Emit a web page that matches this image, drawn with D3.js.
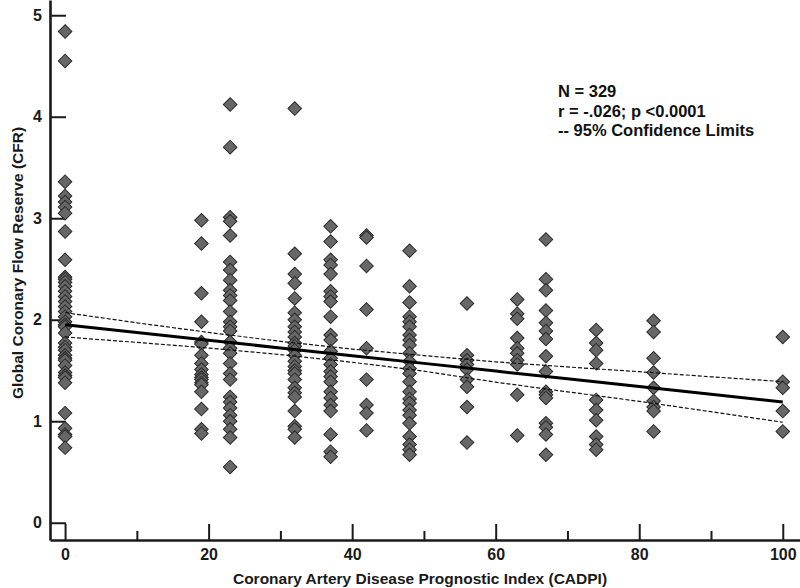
<!DOCTYPE html>
<html>
<head>
<meta charset="utf-8">
<script src="https://cdn.jsdelivr.net/npm/d3@7"></script>
<style>
  html, body { margin: 0; padding: 0; background: #fff; }
  svg { display: block; font-family: "Liberation Sans", Arial, Helvetica, sans-serif; }
</style>
</head>
<body>
<svg id="chart" width="800" height="588"></svg>
<script>
// ---- Data ----
const cadpiLevels = [0, 19, 23, 32, 37, 42, 48, 56, 63, 67, 74, 82, 100];

const cfr_0 = [4.84, 4.55, 3.36, 3.22, 3.16, 3.11, 3.05, 2.87, 2.59, 2.42, 2.40, 2.37, 2.33, 2.28, 2.23, 2.18, 2.13, 2.08, 2.03, 1.98, 1.95, 1.93, 1.87, 1.77, 1.73, 1.70, 1.65, 1.62, 1.60, 1.55, 1.48, 1.45, 1.43, 1.38, 1.08, 0.93, 0.87, 0.85, 0.74];
const cfr_19 = [2.98, 2.75, 2.26, 1.98, 1.78, 1.76, 1.65, 1.57, 1.51, 1.46, 1.43, 1.41, 1.38, 1.36, 1.29, 1.12, 0.92, 0.88];
const cfr_23 = [4.12, 3.70, 3.01, 2.97, 2.83, 2.57, 2.49, 2.39, 2.29, 2.24, 2.19, 2.08, 1.98, 1.93, 1.89, 1.78, 1.72, 1.67, 1.57, 1.47, 1.41, 1.24, 1.19, 1.13, 1.06, 1.00, 0.92, 0.84, 0.55];
const cfr_32 = [4.08, 2.65, 2.45, 2.36, 2.21, 2.07, 2.00, 1.93, 1.88, 1.83, 1.77, 1.74, 1.70, 1.65, 1.59, 1.54, 1.50, 1.47, 1.41, 1.33, 1.28, 1.24, 1.10, 0.95, 0.92, 0.84];
const cfr_37 = [2.92, 2.77, 2.59, 2.54, 2.45, 2.28, 2.23, 2.18, 2.03, 1.85, 1.80, 1.69, 1.62, 1.56, 1.49, 1.44, 1.39, 1.29, 1.23, 1.16, 1.10, 0.87, 0.70, 0.65];
const cfr_42 = [2.83, 2.81, 2.53, 2.10, 1.72, 1.41, 1.16, 1.08, 0.91];
const cfr_48 = [2.68, 2.33, 2.17, 2.03, 1.98, 1.93, 1.85, 1.80, 1.75, 1.67, 1.59, 1.52, 1.47, 1.39, 1.29, 1.22, 1.18, 1.11, 1.06, 0.98, 0.85, 0.77, 0.72, 0.67];
const cfr_56 = [2.16, 1.65, 1.60, 1.56, 1.51, 1.41, 1.34, 1.14, 0.79];
const cfr_63 = [2.20, 2.06, 2.01, 1.82, 1.72, 1.67, 1.60, 1.56, 1.26, 0.86];
const cfr_67 = [2.79, 2.40, 2.29, 2.09, 1.97, 1.89, 1.81, 1.64, 1.49, 1.29, 1.26, 1.23, 0.98, 0.94, 0.87, 0.67];
const cfr_74 = [1.90, 1.77, 1.70, 1.57, 1.21, 1.11, 1.01, 0.85, 0.77, 0.72];
const cfr_82 = [1.99, 1.88, 1.62, 1.48, 1.33, 1.20, 1.14, 1.10, 0.90];
const cfr_100 = [1.83, 1.39, 1.33, 1.10, 0.90];

const cfrByLevel = [cfr_0, cfr_19, cfr_23, cfr_32, cfr_37, cfr_42, cfr_48, cfr_56, cfr_63, cfr_67, cfr_74, cfr_82, cfr_100];

// regression line and 95% confidence limits (read at these CADPI values)
const fitX     = [0, 10, 20, 30, 40, 50, 60, 70, 80, 90, 100];
const fitY     = [1.95, 1.874, 1.798, 1.722, 1.646, 1.570, 1.494, 1.418, 1.342, 1.266, 1.19];
const upperCL  = [2.07, 1.97, 1.875, 1.787, 1.711, 1.647, 1.585, 1.535, 1.488, 1.438, 1.39];
const lowerCL  = [1.83, 1.777, 1.721, 1.657, 1.581, 1.493, 1.385, 1.290, 1.196, 1.094, 0.99];

const yTicks = [0, 1, 2, 3, 4, 5];
const xMajorTicks = [0, 20, 40, 60, 80, 100];
const xMinorTicks = [10, 30, 50, 70, 90];

const annotationLines = ["N = 329", "r = -.026; p <0.0001", "-- 95% Confidence Limits"];
const xTitle = "Coronary Artery Disease Prognostic Index (CADPI)";
const yTitle = "Global Coronary Flow Reserve (CFR)";

// ---- Build points ----
const points = [];
cadpiLevels.forEach((lvl, i) => cfrByLevel[i].forEach(v => points.push({x: lvl, y: v})));

// ---- Chart ----
const svg = d3.select("#chart");
const x = d3.scaleLinear().domain([-2.1, 102.4]).range([50, 800]);
const y = d3.scaleLinear().domain([-0.17, 5.15]).range([540, 0]);

// Axes
const yAxis = d3.axisLeft(y).tickValues(yTicks).tickSize(-16).tickSizeOuter(0).tickPadding(8).tickFormat(d3.format("d"));
const gy = svg.append("g").attr("transform", `translate(${x.range()[0]},0)`).call(yAxis);

const xAxis = d3.axisBottom(x).tickValues(xMajorTicks).tickSize(-16).tickSizeOuter(0).tickPadding(9).tickFormat(d3.format("d"));
const gx = svg.append("g").attr("transform", `translate(0,${y.range()[0]})`).call(xAxis);

const xMinor = d3.axisBottom(x).tickValues(xMinorTicks).tickSize(-9).tickFormat("");
const gxm = svg.append("g").attr("transform", `translate(0,${y.range()[0]})`).call(xMinor);
gxm.select(".domain").remove();

[gy, gx, gxm].forEach(g => {
  g.selectAll(".domain").attr("stroke", "#1a1a1a").attr("stroke-width", 2.6);
  g.selectAll(".tick line").attr("stroke", "#1a1a1a").attr("stroke-width", 2);
  g.selectAll(".tick text").attr("fill", "#1a1a1a").attr("font-size", 16).attr("font-weight", "bold")
    .attr("font-family", "'Liberation Sans', Arial, sans-serif");
});

// Points (diamonds = rotated squares)
const sym = d3.symbol(d3.symbolSquare, 92);
svg.append("g").selectAll("path").data(points).join("path")
  .attr("d", sym)
  .attr("transform", d => `translate(${x(d.x)},${y(d.y)}) rotate(45)`)
  .attr("fill", "#676767")
  .attr("stroke", "#2b2b2b")
  .attr("stroke-width", 1);

// Regression line + confidence limits
const line = d3.line().x(d => x(d[0])).y(d => y(d[1]));
const mk = arr => fitX.map((v, i) => [v, arr[i]]);
svg.append("path").attr("d", line(mk(upperCL))).attr("fill", "none").attr("stroke", "#111").attr("stroke-width", 1.2).attr("stroke-dasharray", "4,2");
svg.append("path").attr("d", line(mk(lowerCL))).attr("fill", "none").attr("stroke", "#111").attr("stroke-width", 1.2).attr("stroke-dasharray", "4,2");
svg.append("path").attr("d", line(mk(fitY))).attr("fill", "none").attr("stroke", "#000").attr("stroke-width", 3);

// Annotation
svg.append("g").selectAll("text").data(annotationLines).join("text")
  .attr("x", 558).attr("y", (d, i) => 97 + i * 19.5)
  .attr("font-size", 16.5).attr("font-weight", "bold").attr("fill", "#111")
  .text(d => d);

// Axis titles
svg.append("text").attr("x", 420).attr("y", 584).attr("text-anchor", "middle")
  .attr("font-size", 15.5).attr("font-weight", "bold").attr("fill", "#1a1a1a").text(xTitle);
svg.append("text").attr("transform", "translate(23,263) rotate(-90)").attr("text-anchor", "middle")
  .attr("font-size", 15.5).attr("font-weight", "bold").attr("fill", "#1a1a1a").text(yTitle);
</script>
</body>
</html>
